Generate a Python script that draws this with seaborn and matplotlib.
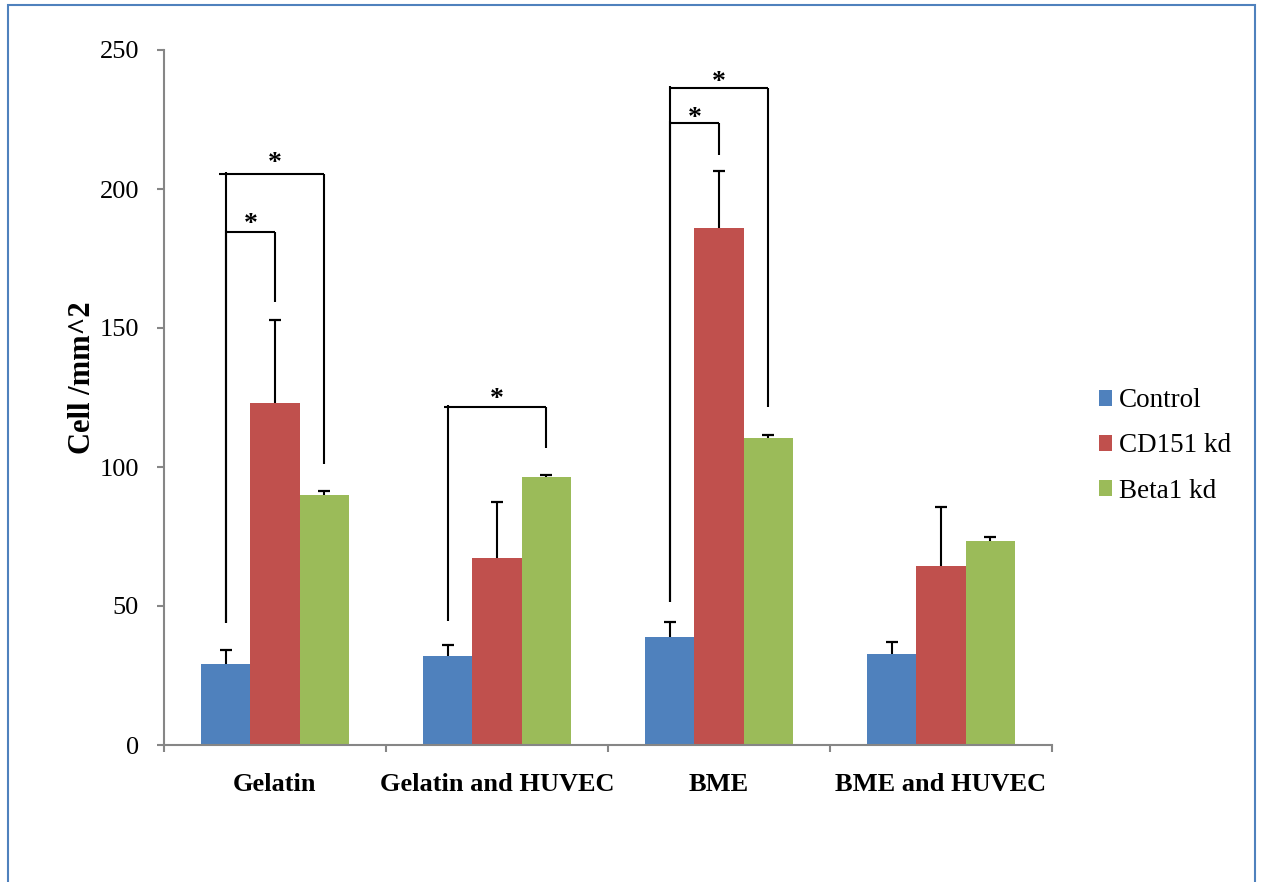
import matplotlib
matplotlib.use("Agg")
import matplotlib.pyplot as plt
from matplotlib.patches import Patch, Rectangle
import numpy as np
import pandas as pd
import seaborn as sns

# Substrates and treatment groups
surfaces = ["Gelatin", "Gelatin and HUVEC", "BME", "BME and HUVEC"]
groups = ["Control", "CD151 kd", "Beta1 kd"]

# Mean cell density (cells/mm^2) per group, one entry per substrate
control_mean = [29.2, 32.0, 38.8, 32.7]
cd151_mean = [123.0, 67.1, 186.0, 64.4]
beta1_mean = [90.0, 96.3, 110.5, 73.4]

# Upper error (SD) per group
control_err = [4.8, 4.0, 5.5, 4.2]
cd151_err = [30.0, 20.4, 20.6, 21.3]
beta1_err = [1.2, 0.9, 0.9, 1.3]

# Significance brackets: (substrate, left group, right group, bracket height,
# left leg bottom, right leg bottom, star height, left overhang)
brackets = [
    (0, 0, 2, 205.4, 43.9, 101.0, 211.5, 0.03),
    (0, 0, 1, 184.5, 43.9, 159.5, 189.6, 0.0),
    (1, 0, 2, 121.6, 44.7, 106.8, 126.6, 0.015),
    (2, 0, 2, 236.4, 51.5, 121.6, 240.6, 0.0),
    (2, 0, 1, 223.9, 51.5, 212.1, 227.7, 0.0),
]

yticks = [0, 50, 100, 150, 200, 250]
palette = ["#4F81BD", "#C0504D", "#9BBB59"]
axis_gray = "#868686"

sns.set_theme(style="white")
plt.rcParams["font.family"] = ["Liberation Serif", "DejaVu Serif"]
plt.rcParams["text.color"] = "black"
plt.rcParams["xtick.labelcolor"] = "black"
plt.rcParams["ytick.labelcolor"] = "black"
plt.rcParams["axes.labelcolor"] = "black"

means = [control_mean, cd151_mean, beta1_mean]
errs = [control_err, cd151_err, beta1_err]
df = pd.DataFrame({
    "Surface": np.tile(surfaces, len(groups)),
    "Group": np.repeat(groups, len(surfaces)),
    "Cells": np.concatenate(means),
})

fig = plt.figure(figsize=(12.62, 8.82), dpi=100)
ax = fig.add_axes([164 / 1262, 1 - 745 / 882, (1052 - 164) / 1262, (745 - 50) / 882])

sns.barplot(data=df, x="Surface", y="Cells", hue="Group", order=surfaces,
            hue_order=groups, palette=palette, saturation=1, width=0.667,
            errorbar=None, edgecolor="none", linewidth=0, ax=ax, legend=False)

# One-sided error bars: a stem from the bar top and a cap at the upper end
centers = []
for cont, err in zip(ax.containers, errs):
    xs = np.array([b.get_x() + b.get_width() / 2 for b in cont])
    hs = np.array([b.get_height() for b in cont])
    tops = hs + np.array(err)
    centers.append(xs)
    ax.vlines(xs, hs, tops, colors="black", linewidth=1.5, zorder=3)
    ax.plot(xs, tops, linestyle="none", marker="_", markersize=9,
            markeredgewidth=1.6, color="black", zorder=3)

# Significance brackets
for cat, gl, gr, ytop, yl, yr, ystar, over in brackets:
    xl = centers[gl][cat]
    xr = centers[gr][cat]
    ax.plot([xl, xl], [yl, ytop + 0.6], color="black", lw=1.5, zorder=4,
            solid_capstyle="butt")
    ax.plot([xl - over, xr], [ytop, ytop], color="black", lw=1.5, zorder=4,
            solid_capstyle="butt")
    ax.plot([xr, xr], [ytop, yr], color="black", lw=1.5, zorder=4,
            solid_capstyle="butt")
    ax.annotate("*", xy=((xl + xr) / 2, ystar), xytext=(0, -9.5),
                textcoords="offset points", ha="center", va="baseline",
                fontsize=20, fontweight="bold", color="black")

ax.set_ylim(0, 250)
ax.set_xlim(-0.5, 3.5)
ax.set_yticks(yticks)
ax.set_yticklabels([str(t) for t in yticks])

# Category ticks sit between groups; labels sit at group centres
ax.set_xticks(np.arange(-0.5, 4.0, 1.0))
ax.set_xticklabels([])
ax.set_xticks(np.arange(len(surfaces)), minor=True)
ax.set_xticklabels(surfaces, minor=True, fontsize=19, fontweight="bold")
ax.tick_params(axis="x", which="major", direction="out", length=5,
               width=1.5, color=axis_gray, bottom=True)
ax.tick_params(axis="x", which="minor", length=0, pad=20, bottom=True)
ax.tick_params(axis="y", direction="out", length=5, width=1.5,
               color=axis_gray, pad=13, labelsize=19, left=True)

for side in ["top", "right"]:
    ax.spines[side].set_visible(False)
for side in ["left", "bottom"]:
    ax.spines[side].set_color(axis_gray)
    ax.spines[side].set_linewidth(1.5)

ax.set_xlabel("")
ax.set_ylabel("Cell /mm^2", fontsize=22, fontweight="bold")
ax.yaxis.set_label_coords((97 - 164) / 888, (745 - 378) / 695)

handles = [Patch(facecolor=c, edgecolor="none") for c in palette]
fig.legend(handles, groups, loc="center left",
           bbox_to_anchor=(1085 / 1262, 1 - 446 / 882), frameon=False,
           fontsize=19.5, handlelength=0.5, handleheight=0.5,
           handletextpad=0.25, labelspacing=0.74, borderpad=0)

# Frame around the whole figure
fig.add_artist(Rectangle((8 / 1262, -0.1), (1255 - 8) / 1262, 1.1 - 5 / 882,
                         transform=fig.transFigure, fill=False,
                         edgecolor="#4F81BD", linewidth=1.5))

fig.savefig("out.png", dpi=100)
